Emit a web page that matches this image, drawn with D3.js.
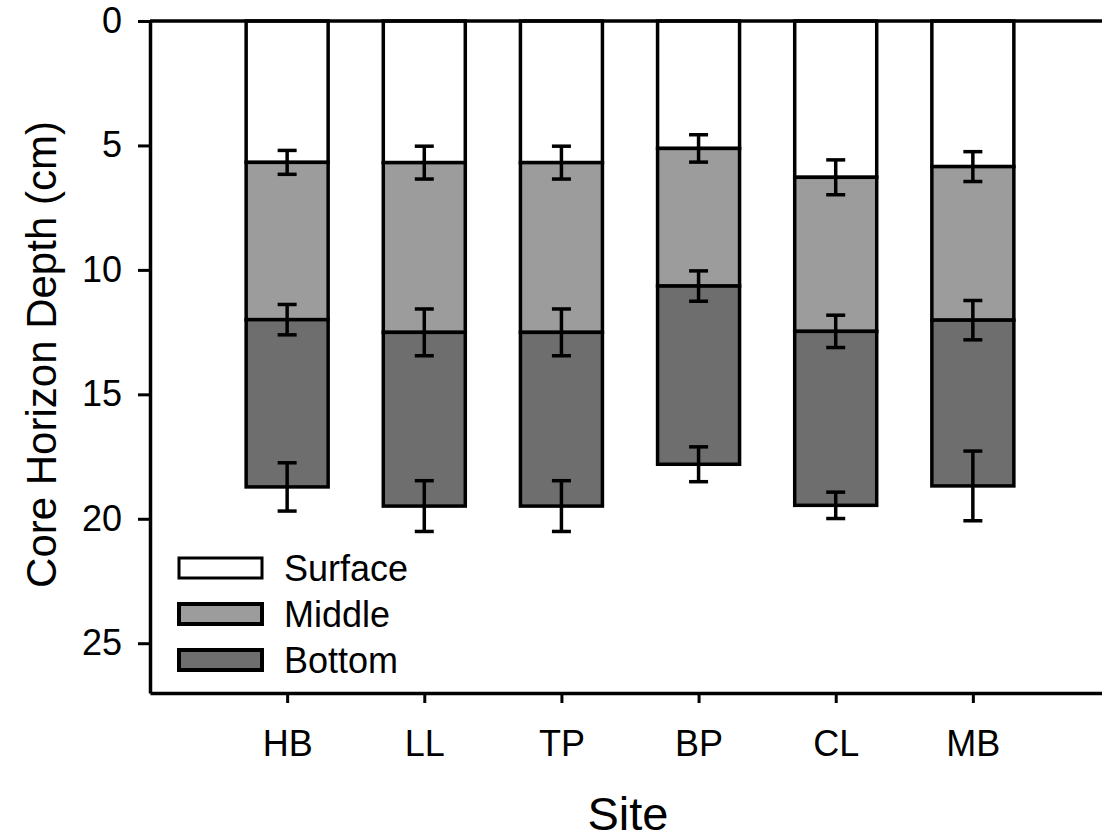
<!DOCTYPE html>
<html>
<head>
<meta charset="utf-8">
<script src="https://cdn.jsdelivr.net/npm/d3@7"></script>
<style>
  html, body { margin: 0; padding: 0; background: #fff; }
  svg { display: block; }
  text { font-family: Arial, "Liberation Sans", Helvetica, sans-serif; fill: #000; }
</style>
</head>
<body>
<svg id="chart" width="1102" height="840"></svg>
<script>
// Sites sampled
const sites = ["HB", "LL", "TP", "BP", "CL", "MB"];

// Depth (cm) at the lower boundary of each horizon, mean per site
const surfaceDepth = [5.68, 5.69, 5.69, 5.12, 6.28, 5.85];
const middleDepth  = [12.00, 12.51, 12.51, 10.65, 12.47, 12.02];
const bottomDepth  = [18.72, 19.49, 19.49, 17.81, 19.46, 18.68];

// Standard error of each boundary depth (cm)
const surfaceErr = [0.48, 0.66, 0.66, 0.55, 0.70, 0.60];
const middleErr  = [0.61, 0.94, 0.94, 0.61, 0.65, 0.79];
const bottomErr  = [0.97, 1.02, 1.02, 0.70, 0.53, 1.40];

// Horizon names and fills
const horizons = ["Surface", "Middle", "Bottom"];
const horizonFill = ["#ffffff", "#9c9c9c", "#6e6e6e"];

// Y axis ticks
const depthTicks = [0, 5, 10, 15, 20, 25];

const svg = d3.select("#chart");
const FONT = "Arial, 'Liberation Sans', sans-serif";

const x = d3.scalePoint().domain(sites).range([150, 1110]).padding(1);
const y = d3.scaleLinear().domain([0, 27]).range([21, 693]);
const barW = 82;

// Build one row per site and horizon
const layers = [
  { fill: horizonFill[0], top: sites.map(() => 0), bot: surfaceDepth, err: surfaceErr },
  { fill: horizonFill[1], top: surfaceDepth, bot: middleDepth, err: middleErr },
  { fill: horizonFill[2], top: middleDepth, bot: bottomDepth, err: bottomErr }
];
const segs = [];
layers.forEach(L => sites.forEach((s, i) => segs.push({
  site: s, fill: L.fill, top: L.top[i], bot: L.bot[i], err: L.err[i]
})));

// Stacked horizon bars
svg.append("g").selectAll("rect").data(segs).join("rect")
  .attr("x", d => x(d.site) - barW / 2)
  .attr("y", d => y(d.top))
  .attr("width", barW)
  .attr("height", d => y(d.bot) - y(d.top))
  .attr("fill", d => d.fill)
  .attr("stroke", "#000")
  .attr("stroke-width", 3.5);

// Error bars on each horizon boundary
const capW = 19;
const eb = svg.append("g").attr("stroke", "#000").attr("stroke-width", 3.5);
eb.selectAll("line.stem").data(segs).join("line").attr("class", "stem")
  .attr("x1", d => x(d.site)).attr("x2", d => x(d.site))
  .attr("y1", d => y(d.bot - d.err)).attr("y2", d => y(d.bot + d.err));
eb.selectAll("line.capT").data(segs).join("line").attr("class", "capT")
  .attr("x1", d => x(d.site) - capW / 2).attr("x2", d => x(d.site) + capW / 2)
  .attr("y1", d => y(d.bot - d.err)).attr("y2", d => y(d.bot - d.err));
eb.selectAll("line.capB").data(segs).join("line").attr("class", "capB")
  .attr("x1", d => x(d.site) - capW / 2).attr("x2", d => x(d.site) + capW / 2)
  .attr("y1", d => y(d.bot + d.err)).attr("y2", d => y(d.bot + d.err));

// Left axis
const yAxis = svg.append("g").attr("transform", "translate(150,0)")
  .call(d3.axisLeft(y).tickValues(depthTicks).tickSize(12).tickSizeOuter(0).tickPadding(16));
yAxis.select(".domain").attr("stroke-width", 3.5);
yAxis.selectAll(".tick line").attr("stroke-width", 3);
yAxis.selectAll(".tick text").attr("font-size", 36).attr("font-family", FONT);

// Bottom axis
const xAxis = svg.append("g").attr("transform", "translate(0,693)")
  .call(d3.axisBottom(x).tickSize(10).tickSizeOuter(0).tickPadding(27));
xAxis.select(".domain").attr("stroke-width", 3.5);
xAxis.selectAll(".tick line").attr("stroke-width", 3);
xAxis.selectAll(".tick text").attr("font-size", 36).attr("font-family", FONT);

// Top border line
svg.append("line")
  .attr("x1", 150).attr("x2", 1110).attr("y1", y(0)).attr("y2", y(0))
  .attr("stroke", "#000").attr("stroke-width", 3.5);

// Axis titles
svg.append("text")
  .attr("transform", `translate(56,${y(13.4)}) rotate(-90)`)
  .attr("text-anchor", "middle")
  .attr("font-size", 42)
  .text("Core Horizon Depth (cm)");

svg.append("text")
  .attr("x", 628).attr("y", 830)
  .attr("text-anchor", "middle")
  .attr("font-size", 47)
  .text("Site");

// Legend
const legend = svg.append("g");
horizons.forEach((h, i) => {
  const cy = 568 + i * 46;
  legend.append("rect")
    .attr("x", 179).attr("y", cy - 10).attr("width", 83).attr("height", 20)
    .attr("fill", horizonFill[i]).attr("stroke", "#000").attr("stroke-width", i === 0 ? 3 : 4);
  legend.append("text")
    .attr("x", 284).attr("y", cy + 13)
    .attr("font-size", 36)
    .text(h);
});
</script>
</body>
</html>
